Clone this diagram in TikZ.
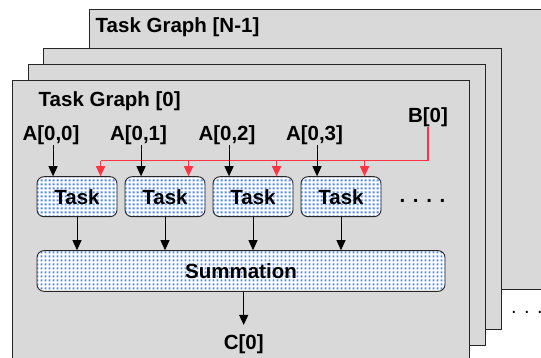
\documentclass[tikz,border=0pt]{standalone}
\usepackage{fontspec}
\setmainfont{Liberation Sans}
\usetikzlibrary{arrows.meta,patterns,calc}
\pgfdeclarepatternformonly{bluedots}{\pgfqpoint{0pt}{0pt}}{\pgfqpoint{4pt}{4pt}}{\pgfqpoint{4pt}{4pt}}{\pgfpathrectangle{\pgfqpoint{0.9pt}{0.9pt}}{\pgfqpoint{2.2pt}{2.2pt}}\pgfusepath{fill}}
\definecolor{panelgray}{HTML}{D9D9D9}
\definecolor{busred}{HTML}{FF3344}
\definecolor{dotblue}{HTML}{4F86F7}
\begin{document}
\begin{tikzpicture}[x=1pt,y=-1pt,
  panel/.style={draw=black!85,line width=0.9pt,fill=panelgray},
  lbl/.style={font=\fontsize{20.5}{24}\selectfont\bfseries,inner sep=0pt,anchor=base},
  taskbox/.style={draw=black!85,line width=0.9pt,rounded corners=7pt,preaction={fill=white},pattern=bluedots,pattern color=dotblue,minimum width=80pt,minimum height=40pt,inner sep=0pt,font=\fontsize{20.5}{24}\selectfont\bfseries},
  arr/.style={draw=black,line width=0.9pt,-{Triangle[width=9pt,length=10pt]}},
  redline/.style={draw=busred,line width=1.6pt},
  redarr/.style={draw=busred,line width=1.4pt,-{Triangle[width=9pt,length=10pt]}}
]
\useasboundingbox (0,0) rectangle (541,358);
\clip (0,0) rectangle (541,358);
% stacked panels
\draw[panel] (89,9) rectangle (560,289);
\draw[panel] (43,48.5) rectangle (501,329);
\draw[panel] (28,64.5) rectangle (485,345);
\draw[panel] (12,80) rectangle (469,372);
% titles
\node[lbl,anchor=base west] (tgN) at (95.5,33) {Task Graph [N-1]};
\node[lbl,anchor=base west] (tg0) at (38.5,106.4) {Task Graph [0]};
% inputs
\node[lbl] (a1) at (51,140.4) {A[0,0]};
\node[lbl] (a2) at (138.5,140.4) {A[0,1]};
\node[lbl] (a3) at (227,140.4) {A[0,2]};
\node[lbl] (a4) at (314.5,140.4) {A[0,3]};
\node[lbl] (b0) at (428,123) {B[0]};
% tasks
\node[taskbox] (t1) at (77,196.7) {Task};
\node[taskbox] (t2) at (165,196.7) {Task};
\node[taskbox] (t3) at (253,196.7) {Task};
\node[taskbox] (t4) at (341,196.7) {Task};
\node[lbl,anchor=base west] (dots1) at (399.5,202.5) {. . . .};
% summation and output
\node[taskbox,minimum width=408pt,minimum height=40.7pt] (sum) at (241,271) {Summation};
\node[lbl] (c0) at (243.7,349.5) {C[0]};
\node[font=\fontsize{20}{24}\selectfont,inner sep=0pt,anchor=base west] (dots2) at (511,313.5) {. . .};
% red bus from B[0]
\coordinate (busl) at (101,160.7);
\draw[redline] (b0.south) -- (b0.south |- busl) -- (busl);
\foreach \i in {1,2,3,4}{
  \coordinate (r\i) at ($(t\i.north west)+(64,0)$);
  \draw[redarr] (r\i |- busl) -- (r\i);
}
% A inputs to tasks
\foreach \i in {1,2,3,4}{
  \coordinate (p\i) at ($(t\i.north west)+(16.5,0)$);
  \draw[arr] (p\i |- a\i.south) -- (p\i);
}
% tasks to summation
\foreach \i in {1,2,3,4}{
  \draw[arr] (t\i.south) -- (t\i.south |- sum.north);
}
% summation to C[0]
\draw[arr] (sum.south -| c0.north) -- ($(c0.north)+(0,-9.5)$);
\end{tikzpicture}
\end{document}
